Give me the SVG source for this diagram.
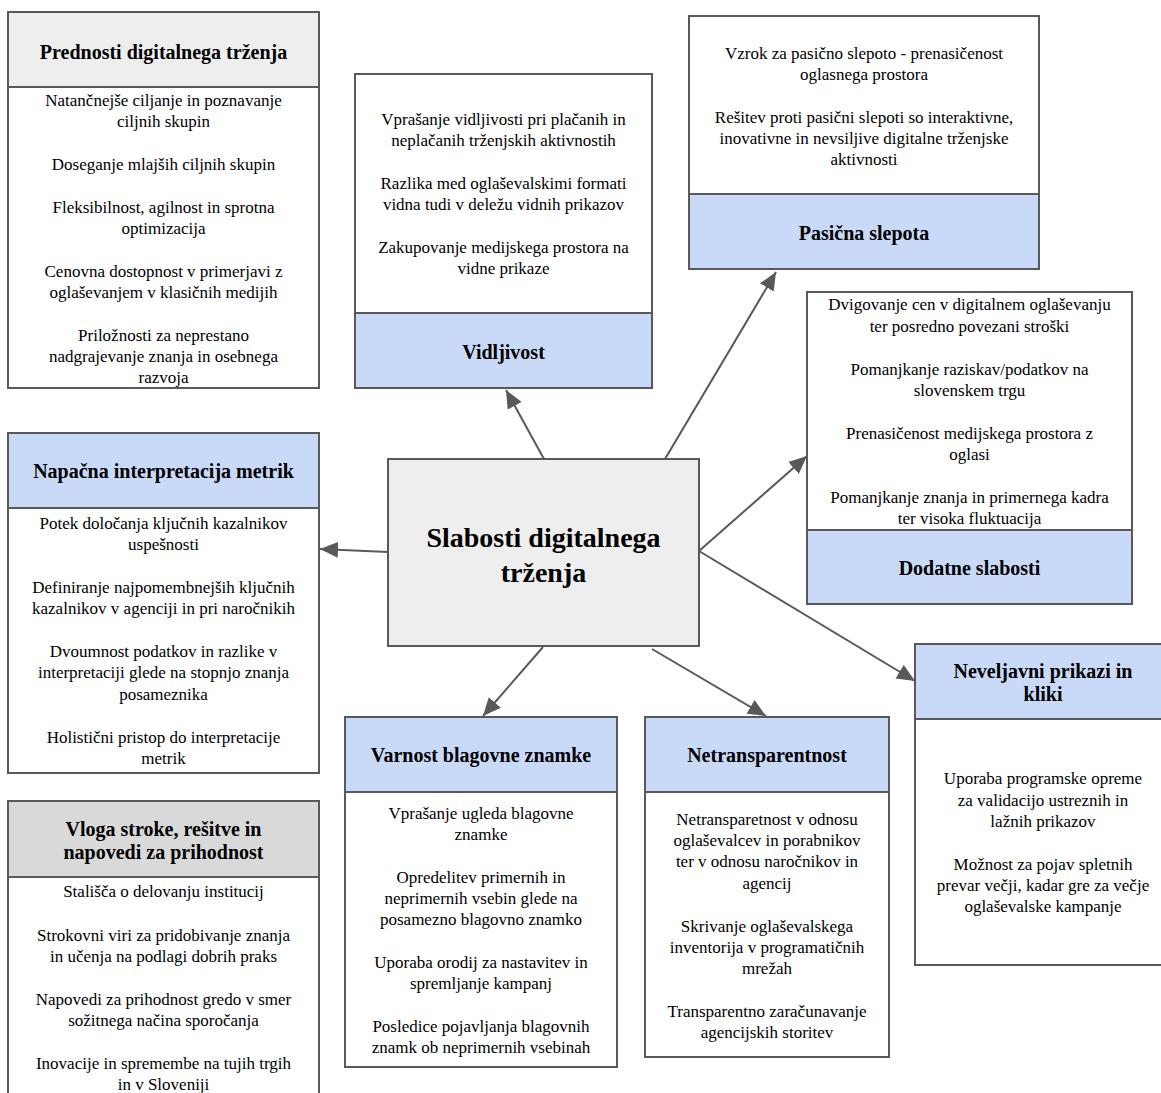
<svg xmlns="http://www.w3.org/2000/svg" width="1161" height="1093" viewBox="0 0 1161 1093" font-family="'Liberation Serif', 'Times New Roman', Times, serif">
<defs>
<style>
.box{fill:#ffffff;stroke:#595959;stroke-width:2}
.hb{fill:#c9daf8;stroke:#595959;stroke-width:2}
.hg{fill:#eeeeee;stroke:#595959;stroke-width:2}
.hd{fill:#d9d9d9;stroke:#595959;stroke-width:2}
text{font-family:'Liberation Serif','Times New Roman',Times,serif;fill:#000;text-anchor:middle}
.t{font-size:17px}
.h{font-size:20px;font-weight:bold}
.c{font-size:28px;font-weight:bold}
.e{stroke:#595959;stroke-width:2;fill:none;marker-end:url(#ah)}
</style>
<marker id="ah" markerUnits="userSpaceOnUse" markerWidth="20" markerHeight="16" refX="18" refY="8" orient="auto">
<path d="M0,0 L18,8 L0,16 Z" fill="#595959"/>
</marker>
</defs>
<rect width="1161" height="1093" fill="#ffffff"/>

<g id="connectors">
<line class="e" x1="544" y1="459" x2="506" y2="390"/>
<line class="e" x1="665" y1="459" x2="776" y2="272"/>
<line class="e" x1="699" y1="551" x2="807" y2="456"/>
<line class="e" x1="699" y1="551" x2="915" y2="681"/>
<line class="e" x1="388" y1="552" x2="320" y2="549"/>
<line class="e" x1="543" y1="647" x2="483" y2="716"/>
<line class="e" x1="652" y1="649" x2="766" y2="716"/>
</g>

<g id="prednosti">
<rect class="box" x="8" y="12" width="311" height="376"/>
<rect class="hg" x="8" y="12" width="311" height="75"/>
<text class="h" x="163.5" y="59">Prednosti digitalnega trženja</text>
<text class="t" x="163.5" y="106">Natančnejše ciljanje in poznavanje</text>
<text class="t" x="163.5" y="127">ciljnih skupin</text>
<text class="t" x="163.5" y="170">Doseganje mlajših ciljnih skupin</text>
<text class="t" x="163.5" y="213">Fleksibilnost, agilnost in sprotna</text>
<text class="t" x="163.5" y="234">optimizacija</text>
<text class="t" x="163.5" y="277">Cenovna dostopnost v primerjavi z</text>
<text class="t" x="163.5" y="298">oglaševanjem v klasičnih medijih</text>
<text class="t" x="163.5" y="341">Priložnosti za neprestano</text>
<text class="t" x="163.5" y="362">nadgrajevanje znanja in osebnega</text>
<text class="t" x="163.5" y="383">razvoja</text>
</g>

<g id="vidljivost">
<rect class="box" x="355" y="74" width="297" height="314"/>
<rect class="hb" x="355" y="313" width="297" height="75"/>
<text class="t" x="503.5" y="125">Vprašanje vidljivosti pri plačanih in</text>
<text class="t" x="503.5" y="146">neplačanih trženjskih aktivnostih</text>
<text class="t" x="503.5" y="189">Razlika med oglaševalskimi formati</text>
<text class="t" x="503.5" y="210">vidna tudi v deležu vidnih prikazov</text>
<text class="t" x="503.5" y="253">Zakupovanje medijskega prostora na</text>
<text class="t" x="503.5" y="274">vidne prikaze</text>
<text class="h" x="503.5" y="359">Vidljivost</text>
</g>

<g id="pasicna">
<rect class="box" x="689" y="16" width="350" height="253"/>
<rect class="hb" x="689" y="194" width="350" height="75"/>
<text class="t" x="864" y="59">Vzrok za pasično slepoto - prenasičenost</text>
<text class="t" x="864" y="80">oglasnega prostora</text>
<text class="t" x="864" y="123">Rešitev proti pasični slepoti so interaktivne,</text>
<text class="t" x="864" y="144">inovativne in nevsiljive digitalne trženjske</text>
<text class="t" x="864" y="165">aktivnosti</text>
<text class="h" x="864" y="240">Pasična slepota</text>
</g>

<g id="dodatne">
<rect class="box" x="807" y="292" width="325" height="312"/>
<rect class="hb" x="807" y="530" width="325" height="74"/>
<text class="t" x="969.5" y="310">Dvigovanje cen v digitalnem oglaševanju</text>
<text class="t" x="969.5" y="332">ter posredno povezani stroški</text>
<text class="t" x="969.5" y="375">Pomanjkanje raziskav/podatkov na</text>
<text class="t" x="969.5" y="396">slovenskem trgu</text>
<text class="t" x="969.5" y="439">Prenasičenost medijskega prostora z</text>
<text class="t" x="969.5" y="460">oglasi</text>
<text class="t" x="969.5" y="503">Pomanjkanje znanja in primernega kadra</text>
<text class="t" x="969.5" y="524">ter visoka fluktuacija</text>
<text class="h" x="969.5" y="575">Dodatne slabosti</text>
</g>

<g id="center">
<rect class="hg" x="388" y="459" width="311" height="187"/>
<text class="c" x="543.5" y="547">Slabosti digitalnega</text>
<text class="c" x="543.5" y="582">trženja</text>
</g>

<g id="napacna">
<rect class="box" x="8" y="433" width="311" height="340"/>
<rect class="hb" x="8" y="433" width="311" height="75"/>
<text class="h" x="163.5" y="478">Napačna interpretacija metrik</text>
<text class="t" x="163.5" y="529">Potek določanja ključnih kazalnikov</text>
<text class="t" x="163.5" y="550">uspešnosti</text>
<text class="t" x="163.5" y="593">Definiranje najpomembnejših ključnih</text>
<text class="t" x="163.5" y="614">kazalnikov v agenciji in pri naročnikih</text>
<text class="t" x="163.5" y="657">Dvoumnost podatkov in razlike v</text>
<text class="t" x="163.5" y="678">interpretaciji glede na stopnjo znanja</text>
<text class="t" x="163.5" y="700">posameznika</text>
<text class="t" x="163.5" y="743">Holistični pristop do interpretacije</text>
<text class="t" x="163.5" y="764">metrik</text>
</g>

<g id="vloga">
<rect class="box" x="8" y="801" width="311" height="310"/>
<rect class="hd" x="8" y="801" width="311" height="76"/>
<text class="h" x="163.5" y="836">Vloga stroke, rešitve in</text>
<text class="h" x="163.5" y="859">napovedi za prihodnost</text>
<text class="t" x="163.5" y="897">Stališča o delovanju institucij</text>
<text class="t" x="163.5" y="941">Strokovni viri za pridobivanje znanja</text>
<text class="t" x="163.5" y="962">in učenja na podlagi dobrih praks</text>
<text class="t" x="163.5" y="1005">Napovedi za prihodnost gredo v smer</text>
<text class="t" x="163.5" y="1026">sožitnega načina sporočanja</text>
<text class="t" x="163.5" y="1069">Inovacije in spremembe na tujih trgih</text>
<text class="t" x="163.5" y="1090">in v Sloveniji</text>
</g>

<g id="varnost">
<rect class="box" x="345" y="717" width="272" height="350"/>
<rect class="hb" x="345" y="717" width="272" height="75"/>
<text class="h" x="481" y="762">Varnost blagovne znamke</text>
<text class="t" x="481" y="819">Vprašanje ugleda blagovne</text>
<text class="t" x="481" y="840">znamke</text>
<text class="t" x="481" y="883">Opredelitev primernih in</text>
<text class="t" x="481" y="904">neprimernih vsebin glede na</text>
<text class="t" x="481" y="925">posamezno blagovno znamko</text>
<text class="t" x="481" y="968">Uporaba orodij za nastavitev in</text>
<text class="t" x="481" y="989">spremljanje kampanj</text>
<text class="t" x="481" y="1032">Posledice pojavljanja blagovnih</text>
<text class="t" x="481" y="1053">znamk ob neprimernih vsebinah</text>
</g>

<g id="netransparentnost">
<rect class="box" x="645" y="717" width="244" height="340"/>
<rect class="hb" x="645" y="717" width="244" height="75"/>
<text class="h" x="767" y="762">Netransparentnost</text>
<text class="t" x="767" y="825">Netransparetnost v odnosu</text>
<text class="t" x="767" y="846">oglaševalcev in porabnikov</text>
<text class="t" x="767" y="867">ter v odnosu naročnikov in</text>
<text class="t" x="767" y="889">agencij</text>
<text class="t" x="767" y="932">Skrivanje oglaševalskega</text>
<text class="t" x="767" y="953">inventorija v programatičnih</text>
<text class="t" x="767" y="974">mrežah</text>
<text class="t" x="767" y="1017">Transparentno zaračunavanje</text>
<text class="t" x="767" y="1038">agencijskih storitev</text>
</g>

<g id="neveljavni">
<rect class="box" x="915" y="644" width="260" height="321"/>
<rect class="hb" x="915" y="644" width="260" height="75"/>
<text class="h" x="1043" y="678">Neveljavni prikazi in</text>
<text class="h" x="1043" y="701">kliki</text>
<text class="t" x="1043" y="784">Uporaba programske opreme</text>
<text class="t" x="1043" y="806">za validacijo ustreznih in</text>
<text class="t" x="1043" y="827">lažnih prikazov</text>
<text class="t" x="1043" y="870">Možnost za pojav spletnih</text>
<text class="t" x="1043" y="891">prevar večji, kadar gre za večje</text>
<text class="t" x="1043" y="912">oglaševalske kampanje</text>
</g>
</svg>
